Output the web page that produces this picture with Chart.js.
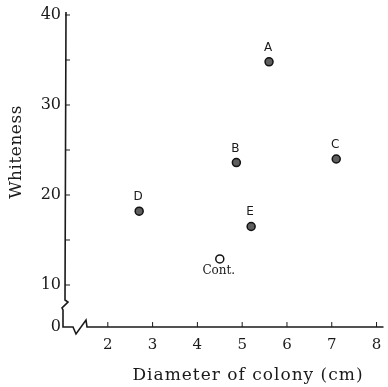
<!DOCTYPE html>
<html>
<head>
<meta charset="utf-8">
<title>Whiteness vs colony diameter</title>
<script src="https://cdn.jsdelivr.net/npm/chart.js@4"></script>
<style>
    body{ margin:0; background:#fff; }
    canvas{ display:block; }
</style>
</head>
<body>
<canvas id="colonyChart" width="388" height="387"></canvas>
<script>
/* ===========================
   DATA
=========================== */
const strains   = ["A", "B", "C", "D", "E", "Cont."];
const diameter  = [5.6, 4.87, 7.1, 2.7, 5.2, 4.5];
const whiteness = [34.8, 23.6, 24.0, 18.2, 16.5, 12.9];

const xTicks = [2, 3, 4, 5, 6, 7, 8];
const yTicks = [10, 15, 20, 25, 30, 35, 40];
const yZeroLabel = "0";

const xTitle = "Diameter of colony (cm)";
const yTitle = "Whiteness";

const INK = "#1a1a1a";

/* ===========================
   AXES, BREAKS, LABELS
=========================== */
const axisDecor = {

    id: "axisDecor",

    afterDatasetsDraw(chart){

        const { ctx, chartArea, scales } = chart;
        const { left, right, top, bottom } = chartArea;

        ctx.save();
        ctx.strokeStyle = INK;
        ctx.fillStyle = INK;

        // axis lines with the broken section near the origin
        ctx.lineWidth = 1.6;
        ctx.beginPath();
        ctx.moveTo(left + 1, top);
        ctx.lineTo(left, bottom - 27);
        ctx.lineTo(left + 3, bottom - 25);
        ctx.lineTo(left - 3, bottom - 19);
        ctx.lineTo(left - 2, bottom - 17);
        ctx.lineTo(left - 2, bottom);
        ctx.lineTo(left + 8, bottom);
        ctx.lineTo(left + 11, bottom + 7);
        ctx.lineTo(left + 21, bottom - 7);
        ctx.lineTo(left + 22, bottom);
        ctx.lineTo(right + 1, bottom);
        ctx.stroke();

        // inward tick marks
        ctx.lineWidth = 1;
        ctx.beginPath();
        yTicks.forEach(v => {
            const py = scales.y.getPixelForValue(v);
            ctx.moveTo(left, py);
            ctx.lineTo(left + 5, py);
        });
        xTicks.forEach(v => {
            const px = scales.x.getPixelForValue(v);
            ctx.moveTo(px, bottom);
            ctx.lineTo(px, bottom - 5);
        });
        ctx.stroke();

        // strain names next to each point
        const meta = chart.getDatasetMeta(0);
        ctx.textAlign = "center";
        ctx.textBaseline = "alphabetic";
        meta.data.forEach((pt, i) => {
            const name = strains[i];
            if(name === "Cont."){
                ctx.font = "12px 'DejaVu Serif'";
                ctx.fillText(name, pt.x - 1, pt.y + 15);
            }else{
                ctx.font = "12px 'DejaVu Sans'";
                ctx.fillText(name, pt.x - 1, pt.y - 11);
            }
        });

        // axis titles
        ctx.font = "17px 'DejaVu Serif'";
        ctx.textBaseline = "middle";
        ctx.letterSpacing = "1px";
        ctx.fillText(xTitle, 248, 376);

        ctx.letterSpacing = "0.5px";
        ctx.translate(17, 152);
        ctx.rotate(-Math.PI / 2);
        ctx.fillText(yTitle, 0, 0);

        ctx.restore();

    }

};

/* ===========================
   SCATTER CHART
=========================== */
new Chart(document.getElementById("colonyChart"), {

    type: "scatter",

    data: {

        labels: strains,

        datasets: [

            {

                data: diameter.map((d, i) => ({ x: d, y: whiteness[i] })),

                pointRadius: 4,

                pointHoverRadius: 4,

                pointBorderWidth: 1.5,

                pointBorderColor: "#111",

                pointBackgroundColor: strains.map(s => s === "Cont." ? "#fff" : "#5e5e5e"),

                clip: false

            }

        ]

    },

    options: {

        responsive: false,

        animation: false,

        events: [],

        layout: {

            padding: { top: 12, right: 4, left: 0, bottom: 0 }

        },

        plugins: {

            legend: { display: false },

            tooltip: { enabled: false }

        },

        scales: {

            x: {

                type: "linear",

                min: 1.044,

                max: 8.133,

                grid: { display: false, drawTicks: false },

                border: { display: false },

                afterFit(scale){
                    scale.height = 60;
                    scale.paddingLeft = 0;
                    scale.paddingRight = 0;
                },

                afterBuildTicks(scale){ scale.ticks = xTicks.map(v => ({ value: v })); },

                ticks: {

                    color: INK,

                    padding: 9,

                    maxRotation: 0,

                    font: { family: "DejaVu Serif", size: 15 }

                }

            },

            y: {

                type: "linear",

                min: 5.333,

                max: 40.333,

                grid: { display: false, drawTicks: false },

                border: { display: false },

                afterFit(scale){
                    scale.width = 65;
                    scale.paddingTop = 0;
                    scale.paddingBottom = 0;
                },

                afterBuildTicks(scale){

                    scale.ticks = [{ value: scale.min }].concat(yTicks.map(v => ({ value: v })));

                },

                ticks: {

                    color: INK,

                    padding: 4,

                    font: { family: "DejaVu Serif", size: 16 },

                    callback: (value, index) => {

                        if(index === 0) return yZeroLabel;

                        return value % 10 === 0 ? String(value) : "";

                    }

                }

            }

        }

    },

    plugins: [axisDecor]

});
</script>
</body>
</html>
